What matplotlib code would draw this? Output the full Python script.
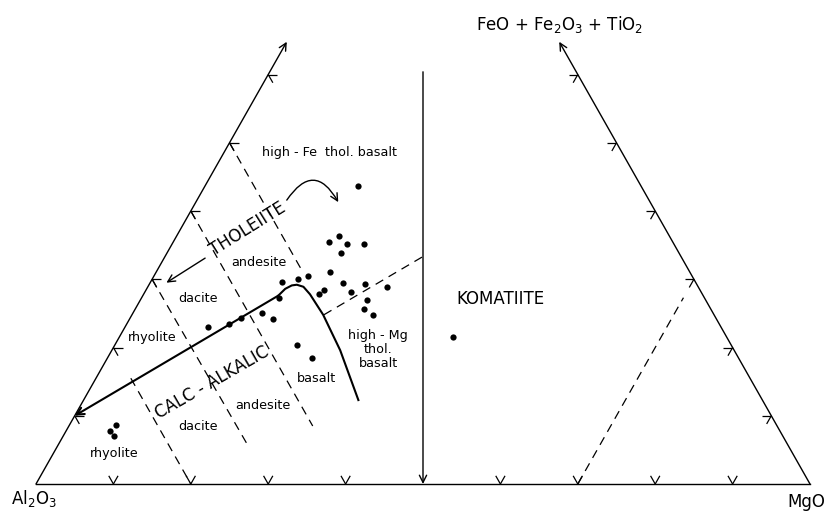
"""
Jensen cation plot (Al2O3 - FeO+Fe2O3+TiO2 - MgO) with sample compositions.
"""
import matplotlib

matplotlib.use("Agg")
import matplotlib.pyplot as plt
import numpy as np

# sample compositions, cation % (Al = 100 - Fe - Mg)
SAMPLE_FE = [43.7, 36.4, 35.4, 35.1, 35.1, 33.8, 31.0, 30.5, 30.1, 29.6, 29.5,
             29.3, 28.9, 28.4, 27.9, 28.1, 27.3, 26.9, 25.6, 24.8, 25.1, 24.2,
             24.3, 23.4, 23.0, 20.3, 18.5, 8.6, 7.8, 7.1, 21.6]
SAMPLE_MG = [19.7, 21.0, 20.1, 22.6, 24.8, 22.5, 22.5, 19.9, 18.8, 17.0, 24.9,
             27.9, 30.9, 23.0, 22.6, 26.7, 17.7, 29.3, 29.6, 31.1, 16.6, 18.5,
             14.3, 13.2, 10.7, 23.6, 26.4, 6.1, 5.7, 6.5, 43.1]

# tholeiite / calc-alkalic boundary (Fe, Mg)
THCA_FE = [10.0, 27.6, 28.6, 29.1, 29.2, 28.9, 27.8, 24.8, 19.6, 12.3]
THCA_MG = [0.0, 17.5, 17.9, 18.5, 19.1, 20.1, 21.5, 24.7, 29.5, 35.5]

# dashed field boundaries: start (Fe, Mg) -> end (Fe, Mg)
DASHED_FE0 = [30.0, 15.5, 40.0, 50.0, 24.8, 0.0]
DASHED_MG0 = [0.0, 4.5, 0.0, 0.0, 24.8, 70.0]
DASHED_FE1 = [5.7, 0.0, 8.5, 31.4, 33.3, 27.3]
DASHED_MG1 = [24.5, 20.0, 31.5, 18.6, 33.3, 70.0]

TICKS = [10, 20, 30, 40, 50, 60]
BASE_TICKS = [10, 20, 30, 40, 60, 70, 80, 90]
EDGE_TOP_FE = 64.8
MID_TOP_FE = 60.4

FIELD_LABELS = ["high - Fe  thol. basalt", "andesite", "dacite", "rhyolite",
                "dacite", "andesite", "basalt", "rhyolite",
                "high - Mg\nthol.\nbasalt", "KOMATIITE"]
LABEL_X = [0.3798, 0.2881, 0.2093, 0.1499, 0.2093, 0.2933, 0.3630, 0.1008,
           0.4419, 0.5995]
LABEL_Y = [0.4213, 0.2817, 0.2360, 0.1853, 0.0736, 0.0990, 0.1345, 0.0393,
           0.1701, 0.2348]

S3 = np.sqrt(3.0) / 2.0
LW = 1.0
TICK_LEN = 1.2


def tern(fe, mg):
    fe = np.asarray(fe, dtype=float)
    mg = np.asarray(mg, dtype=float)
    return mg / 100.0 + fe / 200.0, fe / 100.0 * S3


def arrow(ax, p0, p1, lw=LW, rad=0.0):
    ax.annotate(
        "", xy=tern(*p1), xytext=tern(*p0),
        arrowprops=dict(arrowstyle="->", lw=lw, color="black",
                        mutation_scale=13, shrinkA=0, shrinkB=0,
                        connectionstyle="arc3,rad={}".format(rad)),
    )


def chevron(ax, fe, mg, arms):
    # two short arms drawn from the tick point on the edge
    for dfe, dmg in arms:
        x, y = tern([fe + dfe, fe], [mg + dmg, mg])
        ax.plot(x, y, color="black", lw=0.9, solid_capstyle="butt")


def main():
    fig = plt.figure(figsize=(8.29, 5.12), dpi=100, facecolor="white")
    ax = fig.add_axes([0, 0, 1, 1])
    ax.set_xlim(-36 / 774, 793 / 774)
    ax.set_ylim(-28 / 788, 484 / 788)
    ax.axis("off")

    # frame: base, two truncated sides, central line
    x, y = tern([0, 0], [0, 100])
    ax.plot(x, y, color="black", lw=LW)
    arrow(ax, (0, 0), (EDGE_TOP_FE, 0))
    arrow(ax, (0, 100), (EDGE_TOP_FE, 100 - EDGE_TOP_FE))
    arrow(ax, (MID_TOP_FE, 50 - MID_TOP_FE / 2), (0, 50))

    d = TICK_LEN
    for f in TICKS:
        chevron(ax, f, 0, [(0, d), (-d, d)])
        chevron(ax, f, 100 - f, [(0, -d), (-d, 0)])
    for m in BASE_TICKS:
        chevron(ax, 0, m, [(d, 0), (d, -d)])

    # dashed field boundaries
    for f0, m0, f1, m1 in zip(DASHED_FE0, DASHED_MG0, DASHED_FE1, DASHED_MG1):
        x, y = tern([f0, f1], [m0, m1])
        ax.plot(x, y, color="black", lw=0.9, dashes=(7, 5))

    # TH / CA boundary
    x, y = tern(THCA_FE, THCA_MG)
    ax.plot(x[1:], y[1:], color="black", lw=1.5)
    ax.annotate("", xy=(x[0], y[0]), xytext=(x[1], y[1]),
                arrowprops=dict(arrowstyle="->", lw=1.5, color="black",
                                mutation_scale=13, shrinkA=0, shrinkB=0))

    # samples
    x, y = tern(SAMPLE_FE, SAMPLE_MG)
    ax.plot(x, y, "o", color="black", ms=4.5, mec="none")

    # series labels with arrows
    arrow(ax, (33.1, 5.3), (29.5, 2.1))
    arrow(ax, (41.6, 11.6), (41.3, 18.4), rad=-0.8)
    ax.text(0.2739, 0.3236, "THOLEIITE", rotation=32, fontsize=12,
            ha="center", va="center")
    ax.text(0.2274, 0.1282, "CALC - ALKALIC", rotation=30, fontsize=12,
            ha="center", va="center")

    for lab, lx, ly in zip(FIELD_LABELS, LABEL_X, LABEL_Y):
        ax.text(lx, ly, lab, fontsize=12 if lab.isupper() else 9.2,
                ha="center", va="center", linespacing=1.1)

    ax.text(0.6770, 0.5825, r"FeO + Fe$_2$O$_3$ + TiO$_2$", fontsize=12,
            ha="center", va="center")
    ax.text(-0.0030, -0.019, r"Al$_2$O$_3$", fontsize=12, ha="center", va="center")
    ax.text(0.9950, -0.0228, "MgO", fontsize=12, ha="center", va="center")

    fig.savefig("out.png", dpi=100, facecolor="white")
    plt.close(fig)


if __name__ == "__main__":
    main()
